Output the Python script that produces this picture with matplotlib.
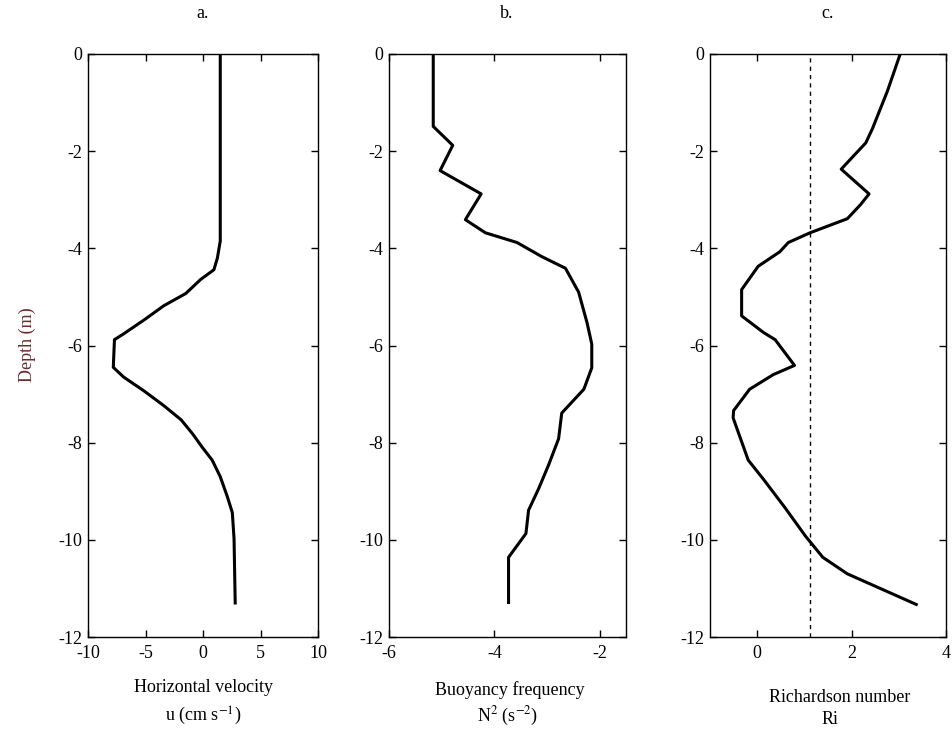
import matplotlib
matplotlib.use("Agg")
import matplotlib.pyplot as plt
import numpy as np

plt.rcParams['font.family'] = ['Liberation Serif', 'DejaVu Serif']
plt.rcParams['mathtext.fontset'] = 'stix'
plt.rcParams['axes.unicode_minus'] = False

# Panel a: horizontal velocity (cm/s) vs depth (m)
u_vel = [1.5, 1.5, 1.25, 0.95, -0.2, -1.5, -3.4, -5.1, -6.9, -7.7, -7.8, -6.9, -5.1,
         -3.4, -1.9, -0.9, -0.05, 0.8, 1.5, 2.1, 2.55, 2.7, 2.8]
u_depth = [0.0, -3.85, -4.2, -4.44, -4.64, -4.93, -5.18, -5.47, -5.76, -5.88, -6.45, -6.65, -6.94,
           -7.24, -7.53, -7.82, -8.1, -8.36, -8.7, -9.1, -9.44, -9.98, -11.3]

# Panel b: buoyancy frequency N^2 (log scale value) vs depth
n2 = [-5.16, -5.16, -4.79, -5.03, -4.25, -4.55, -4.17, -3.57, -3.1, -2.65, -2.4, -2.24,
      -2.15, -2.15, -2.3, -2.72, -2.78, -2.97, -3.16, -3.35, -3.4, -3.73, -3.73]
n2_depth = [0.0, -1.49, -1.88, -2.4, -2.88, -3.41, -3.68, -3.88, -4.17, -4.41, -4.9, -5.53,
            -5.97, -6.46, -6.9, -7.39, -7.92, -8.46, -8.95, -9.39, -9.87, -10.36, -11.29]

# Panel c: Richardson number vs depth
ri = [3.03, 2.76, 2.44, 2.3, 1.78, 2.37, 2.19, 1.91, 1.12, 0.66, 0.48, 0.02, -0.33, -0.33,
      0.13, 0.38, 0.79, 0.34, -0.16, -0.5, -0.51, -0.19, 0.13, 0.59, 1.02, 1.39, 1.91, 3.37]
ri_depth = [0.0, -0.76, -1.54, -1.83, -2.37, -2.88, -3.1, -3.39, -3.68, -3.88, -4.07, -4.37,
            -4.85, -5.39, -5.73, -5.88, -6.41, -6.6, -6.9, -7.34, -7.49, -8.36, -8.75, -9.34,
            -9.92, -10.36, -10.7, -11.33]
ri_crit = 1.12

yticks = [0, -2, -4, -6, -8, -10, -12]

W, H = 952, 745
fig = plt.figure(figsize=(W / 100, H / 100), dpi=100)

def make_ax(l, r, t=54, b=637):
    return fig.add_axes([l / W, 1 - b / H, (r - l) / W, (b - t) / H])

axa = make_ax(88, 318)
axb = make_ax(389, 626)
axc = make_ax(710, 946)

for ax in (axa, axb, axc):
    ax.set_ylim(-12, 0)
    ax.set_yticks(yticks)
    ax.tick_params(direction='in', top=True, right=True, labelsize=13, length=5, width=1)
    ax.tick_params(axis='y', pad=4)
    ax.tick_params(axis='x', pad=6)
    for s in ax.spines.values():
        s.set_linewidth(1.0)

axa.plot(u_vel, u_depth, color='black', lw=2.2)
axa.set_xlim(-10, 10)
axa.set_xticks([-10, -5, 0, 5, 10])

axb.plot(n2, n2_depth, color='black', lw=2.2)
axb.set_xlim(-6, -1.5)
axb.set_xticks([-6, -4, -2])

axc.plot(ri, ri_depth, color='black', lw=2.2)
axc.axvline(ri_crit, color='black', lw=1.0, ls=(0, (3, 3)))
axc.set_xlim(-1, 4)
axc.set_xticks([0, 2, 4])

def ftext(x, y, s, **kw):
    fig.text(x / W, 1 - y / H, s, ha='center', va='center', fontsize=13, **kw)

ftext(203, 14, 'a.')
ftext(507, 14, 'b.')
ftext(828, 14, 'c.')

ftext(203, 688, 'Horizontal velocity')
ftext(203, 716, r'u (cm s$^{-1}$)')
ftext(510, 690, 'Buoyancy frequency')
ftext(508, 716, r'N$^{2}$ (s$^{-2}$)')
ftext(840, 697, 'Richardson number')
ftext(830, 720, 'Ri')

fig.text(27 / W, 1 - 345 / H, 'Depth (m)', rotation=90, ha='center', va='center',
         fontsize=13, color='#6b2b2b')

fig.savefig('out.png', dpi=100)
